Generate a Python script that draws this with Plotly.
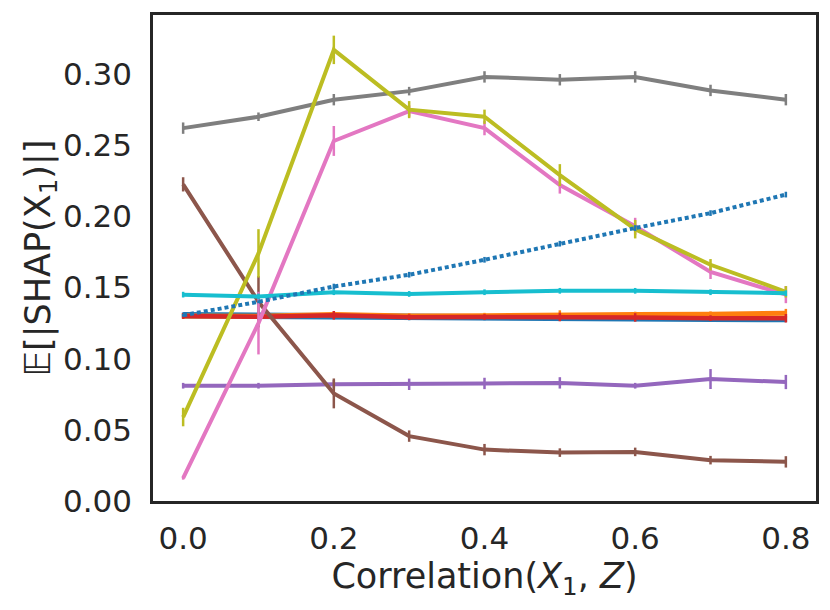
import plotly.graph_objects as go

# correlation values on the x axis
corr = [0.0, 0.1, 0.2, 0.3, 0.4, 0.5, 0.6, 0.7, 0.8]

# mean |SHAP| per model (tab10 order), with std error
blue = [0.1305, 0.1300, 0.1305, 0.1290, 0.1290, 0.1290, 0.1285, 0.1280, 0.1278]
blue_err = [0.002, 0.002, 0.002, 0.002, 0.002, 0.002, 0.002, 0.002, 0.002]
orange = [0.1300, 0.1298, 0.1310, 0.1300, 0.1302, 0.1310, 0.1310, 0.1312, 0.1320]
orange_err = [0.002, 0.002, 0.002, 0.002, 0.002, 0.003, 0.002, 0.002, 0.003]
red = [0.1300, 0.1295, 0.1305, 0.1292, 0.1293, 0.1293, 0.1290, 0.1285, 0.1284]
red_err = [0.002, 0.002, 0.003, 0.002, 0.002, 0.003, 0.003, 0.002, 0.003]
purple = [0.081, 0.081, 0.082, 0.082, 0.0826, 0.083, 0.081, 0.0857, 0.0836]
purple_err = [0.002, 0.002, 0.003, 0.004, 0.004, 0.004, 0.002, 0.007, 0.005]
brown = [0.2225, 0.140, 0.0756, 0.0456, 0.0361, 0.0340, 0.0345, 0.0287, 0.0275]
brown_err = [0.005, 0.018, 0.0105, 0.004, 0.004, 0.003, 0.003, 0.003, 0.004]
pink = [0.016, 0.125, 0.253, 0.274, 0.262, 0.222, 0.193, 0.161, 0.145]
pink_err = [0.001, 0.022, 0.0105, 0.004, 0.005, 0.006, 0.006, 0.005, 0.006]
gray = [0.262, 0.270, 0.282, 0.288, 0.298, 0.296, 0.298, 0.2885, 0.282]
gray_err = [0.004, 0.003, 0.004, 0.003, 0.004, 0.004, 0.004, 0.004, 0.004]
olive = [0.059, 0.174, 0.317, 0.275, 0.270, 0.229, 0.191, 0.166, 0.147]
olive_err = [0.0065, 0.017, 0.01, 0.006, 0.005, 0.0077, 0.0065, 0.004, 0.004]
cyan = [0.145, 0.1437, 0.1467, 0.1455, 0.1467, 0.1477, 0.1477, 0.1467, 0.146]
cyan_err = [0.002, 0.002, 0.002, 0.002, 0.002, 0.002, 0.002, 0.002, 0.002]
dotted = [0.1305, 0.140, 0.1507, 0.159, 0.1695, 0.1808, 0.1918, 0.2023, 0.2153]
dotted_err = [0.001, 0.001, 0.002, 0.002, 0.002, 0.002, 0.002, 0.002, 0.002]

series = [
    (blue, blue_err, "#1f77b4", 6.5, "solid"),
    (orange, orange_err, "#ff7f0e", 5, "solid"),
    (red, red_err, "#d62728", 4.5, "solid"),
    (purple, purple_err, "#9467bd", 4, "solid"),
    (brown, brown_err, "#8c564b", 4, "solid"),
    (pink, pink_err, "#e377c2", 4, "solid"),
    (gray, gray_err, "#7f7f7f", 4, "solid"),
    (olive, olive_err, "#bcbd22", 4, "solid"),
    (cyan, cyan_err, "#17becf", 4, "solid"),
    (dotted, dotted_err, "#1f77b4", 4, "4px,3px"),
]

fig = go.Figure()
for vals, errs, color, lw, dash in series:
    fig.add_trace(go.Scatter(
        x=corr, y=vals, mode="lines",
        line=dict(color=color, width=lw, dash=dash),
        error_y=dict(type="data", array=errs, color=color, thickness=2.5, width=0),
        showlegend=False,
    ))

tick_font = dict(family="DejaVu Sans", size=31, color="#262626")
title_font = dict(family="DejaVu Sans", size=35, color="#262626")
# page body adds an 8px offset, so the figure is 8px smaller than the window
fig.update_layout(
    width=822, height=602,
    margin=dict(l=145, r=14, t=7, b=109),
    plot_bgcolor="white", paper_bgcolor="white",
    font=tick_font,
)
fig.update_xaxes(
    range=[-0.04, 0.84], tickvals=[0.0, 0.2, 0.4, 0.6, 0.8], ticktext=["0.0", "0.2", "0.4", "0.6", "0.8"],
    showgrid=False, zeroline=False, showline=True, mirror=True, automargin=False,
    linecolor="#262626", linewidth=2.5, ticks="", ticklabelstandoff=8, tickfont=tick_font,
    title=dict(text="Correlation(<i>X</i><sub>1</sub>, <i>Z</i>)", font=title_font, standoff=0),
)
fig.update_yaxes(
    range=[0, 0.3415], tickvals=[0.0, 0.05, 0.1, 0.15, 0.2, 0.25, 0.3],
    ticktext=["0.00", "0.05", "0.10", "0.15", "0.20", "0.25", "0.30"],
    showgrid=False, zeroline=False, showline=True, mirror=True, automargin=False,
    linecolor="#262626", linewidth=2.5, ticks="", ticklabelstandoff=12, tickfont=tick_font,
    title=dict(text="𝔼[|SHAP(X<sub>1</sub>)|]", font=title_font, standoff=0),
)

fig.write_html("out.html")
